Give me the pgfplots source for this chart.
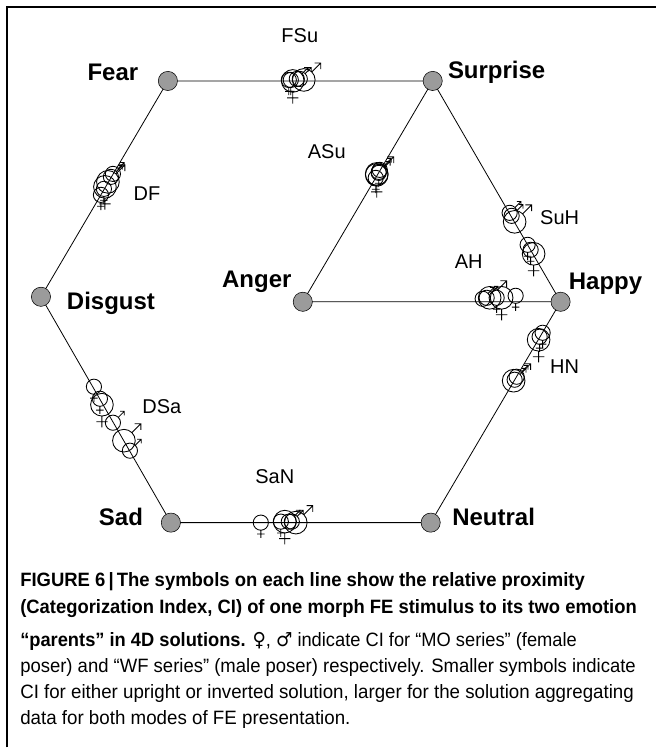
\documentclass[border=0pt]{standalone}
\usepackage{pgfplots}
\pgfplotsset{compat=1.18}
\usepackage{fontspec}
\usepackage{graphicx}
\setmainfont{Liberation Sans}
\newfontfamily\symfont{DejaVu Sans}
\definecolor{nodegray}{RGB}{155,155,155}

\pgfdeclareplotmark{venus}{%
  \pgfpathcircle{\pgfpointorigin}{\pgfplotmarksize}%
  \pgfpathmoveto{\pgfqpoint{0pt}{-\pgfplotmarksize}}%
  \pgfpathlineto{\pgfqpoint{0pt}{-2.0\pgfplotmarksize}}%
  \pgfpathmoveto{\pgfqpoint{-0.5\pgfplotmarksize}{-1.5\pgfplotmarksize}}%
  \pgfpathlineto{\pgfqpoint{0.5\pgfplotmarksize}{-1.5\pgfplotmarksize}}%
  \pgfusepathqstroke}
\pgfdeclareplotmark{mars}{%
  \pgfpathcircle{\pgfpointorigin}{\pgfplotmarksize}%
  \pgfpathmoveto{\pgfqpoint{0.707\pgfplotmarksize}{0.707\pgfplotmarksize}}%
  \pgfpathlineto{\pgfqpoint{1.5\pgfplotmarksize}{1.5\pgfplotmarksize}}%
  \pgfpathmoveto{\pgfqpoint{0.95\pgfplotmarksize}{1.5\pgfplotmarksize}}%
  \pgfpathlineto{\pgfqpoint{1.5\pgfplotmarksize}{1.5\pgfplotmarksize}}%
  \pgfpathlineto{\pgfqpoint{1.5\pgfplotmarksize}{0.95\pgfplotmarksize}}%
  \pgfusepathqstroke}

\newcommand{\nlab}{\fontsize{18}{20}\selectfont\bfseries}
\newcommand{\elab}{\fontsize{15}{17}\selectfont}
\newcommand{\capf}{\fontsize{14.5}{16}\selectfont}

\begin{document}
\begin{tikzpicture}
\begin{axis}[
  width=492pt, height=561pt, scale only axis,
  xmin=0, xmax=656, ymin=0, ymax=748, y dir=reverse,
  hide axis, clip=false,
]
\path (axis cs:0,0) rectangle (axis cs:656,748);
% frame (left and top edges)
\addplot[black, line width=0.8pt] coordinates {(7,748) (7,7) (656,7)};
% hexagon and inner edges
\addplot[black, line width=0.6pt] coordinates {
  (168,81) (433,81) (561,302) (431,523) (171,523) (41,297) (168,81)};
\addplot[black, line width=0.6pt] coordinates {(433,81) (303,302) (561,302)};
% emotion nodes
\addplot[only marks, mark=*, mark size=7.2pt, draw=none, fill=nodegray] coordinates {
  (168,81) (433,81) (41,297) (303,302) (561,302) (171,523) (431,523)};
% female, small
\addplot[only marks, mark=venus, mark size=5.7pt, black, line width=0.65pt] coordinates {
  (289,80) (291,80)
  (104,189) (101,195)
  (379,172) (376,178)
  (528,245) (531,250)
  (497,298) (516,296)
  (543,333) (540,337)
  (94,387) (100,399)
  (261,523) (281,522)};
% female, large
\addplot[only marks, mark=venus, mark size=8.5pt, black, line width=0.65pt] coordinates {
  (293,81) (105,187) (377,175) (534,254) (502,298) (539,340) (102,405) (285,522)};
% male, small
\addplot[only marks, mark=mars, mark size=5.7pt, black, line width=0.65pt] coordinates {
  (297,79) (300,79)
  (113,174) (111,177)
  (380,170) (379,173)
  (510,213) (512,216)
  (483,299) (487,298)
  (517,377) (515,380)
  (113,423) (130,451)
  (289,522) (292,522)};
% male, large
\addplot[only marks, mark=mars, mark size=8.5pt, black, line width=0.65pt] coordinates {
  (304,80) (108,182) (377,174) (515,222) (490,298) (514,381) (124,441) (296,523)};
% node labels
\node[font=\nlab] at (axis cs:113,72) {Fear};
\node[font=\nlab] at (axis cs:497,72) {Surprise};
\node[font=\nlab] at (axis cs:111,304) {Disgust};
\node[font=\nlab] at (axis cs:257,282) {Anger};
\node[font=\nlab] at (axis cs:606,284) {Happy};
\node[font=\nlab] at (axis cs:121,517) {Sad};
\node[font=\nlab] at (axis cs:494,517) {Neutral};
% edge labels
\node[font=\elab] at (axis cs:300,36) {FSu};
\node[font=\elab] at (axis cs:147,194) {DF};
\node[font=\elab] at (axis cs:327,152) {ASu};
\node[font=\elab] at (axis cs:560,218) {SuH};
\node[font=\elab] at (axis cs:469,262) {AH};
\node[font=\elab] at (axis cs:565,367) {HN};
\node[font=\elab] at (axis cs:162,407) {DSa};
\node[font=\elab] at (axis cs:275,477) {SaN};
% caption
\node[anchor=base west, inner sep=0pt] at (axis cs:20,587)
  {\resizebox{423.75pt}{\height}{\capf\bfseries FIGURE 6\,|\,The symbols on each line show the relative proximity}};
\node[anchor=base west, inner sep=0pt] at (axis cs:20,614)
  {\resizebox{462.75pt}{\height}{\capf\bfseries (Categorization Index, CI) of one morph FE stimulus to its two emotion}};
\node[anchor=base west, inner sep=0pt] at (axis cs:20,647)
  {\resizebox{417.75pt}{\height}{\capf{\bfseries “parents” in 4D solutions.} {\symfont ♀}, {\symfont ♂} indicate CI for “MO series” (female}};
\node[anchor=base west, inner sep=0pt] at (axis cs:20,673)
  {\resizebox{462pt}{\height}{\capf poser) and “WF series” (male poser) respectively. Smaller symbols indicate}};
\node[anchor=base west, inner sep=0pt] at (axis cs:20,699)
  {\resizebox{460.5pt}{\height}{\capf CI for either upright or inverted solution, larger for the solution aggregating}};
\node[anchor=base west, inner sep=0pt] at (axis cs:20,725)
  {\scalebox{0.97}[1]{\capf data for both modes of FE presentation.}};
\end{axis}
\end{tikzpicture}
\end{document}
